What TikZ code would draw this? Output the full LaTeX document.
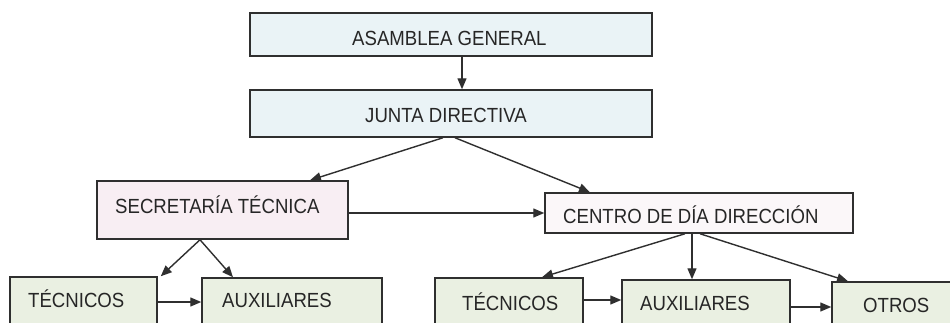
\documentclass[tikz,border=0pt]{standalone}
\usepackage{fontspec}
\setmainfont{Liberation Sans}
\usetikzlibrary{arrows.meta,calc}
\definecolor{edge}{HTML}{2F2F2F}
\definecolor{txtc}{HTML}{262626}
\definecolor{blueF}{HTML}{EAF3F6}
\definecolor{pinkF}{HTML}{F8EEF3}
\definecolor{pinkL}{HTML}{FBF7F9}
\definecolor{greenF}{HTML}{EAF0E2}
\tikzset{
  box/.style={draw=edge, line width=1.5pt, rectangle, inner sep=0pt},
  lbl/.style={anchor=base west, inner sep=0pt, text=txtc, font=\fontsize{18.6}{20}\selectfont},
  arr/.style={draw=edge, line width=1.4pt, -{Triangle[length=11pt,width=9pt]}}
}
\newcommand{\tx}[1]{\scalebox{1}[1.1]{#1}}
\begin{document}
\begin{tikzpicture}[x=1pt,y=-1pt]
\useasboundingbox (0,0) rectangle (950,322);
\clip (0,0) rectangle (950,322);
\fill[white] (0,0) rectangle (950,322);
% boxes
\node[box, fill=blueF, minimum width=402pt, minimum height=43pt] (ag) at (451,34.5) {};
\node[box, fill=blueF, minimum width=402pt, minimum height=47pt] (jd) at (451,113.5) {};
\node[box, fill=pinkF, minimum width=251pt, minimum height=58pt] (st) at (222.5,210) {};
\node[box, fill=pinkL, minimum width=308pt, minimum height=40pt] (cd) at (699,213) {};
\node[box, fill=greenF, minimum width=147pt, minimum height=63pt] (t1) at (83.5,308.5) {};
\node[box, fill=greenF, minimum width=180pt, minimum height=62pt] (a1) at (292,309) {};
\node[box, fill=greenF, minimum width=148pt, minimum height=62pt] (t2) at (509,309) {};
\node[box, fill=greenF, minimum width=168pt, minimum height=60pt] (a2) at (706,310) {};
\node[box, fill=greenF, minimum width=128pt, minimum height=58pt] (ot) at (896,311) {};
% labels
\node[lbl] (lag) at (352,45) {\tx{ASAMBLEA GENERAL}};
\node[lbl] (ljd) at (365,122) {\tx{JUNTA DIRECTIVA}};
\node[lbl] (lst) at (115,213) {\tx{SECRETARÍA TÉCNICA}};
\node[lbl] (lcd) at (563,223) {\tx{CENTRO DE DÍA DIRECCIÓN}};
\node[lbl] (lt1) at (28,307) {\tx{TÉCNICOS}};
\node[lbl] (la1) at (222,307) {\tx{AUXILIARES}};
\node[lbl] (lt2) at (462,310) {\tx{TÉCNICOS}};
\node[lbl] (la2) at (640,310) {\tx{AUXILIARES}};
\node[lbl] (lot) at (863,312) {\tx{OTROS}};
% connectors
\draw[arr] ([xshift=11pt]ag.south) -- ([xshift=11pt]jd.north);
\draw[arr] ([xshift=-8pt]jd.south) -- ([xshift=87.5pt]st.north);
\draw[arr] ([xshift=4pt]jd.south) -- ([xshift=-109pt]cd.north);
\draw[arr] (st.east |- cd.west) -- (cd.west);
\draw[arr] ([xshift=-22.5pt]st.south) -- ([xshift=3pt]t1.north east);
\draw[arr] ([xshift=-22.5pt]st.south) -- ([xshift=-59pt]a1.north);
\draw[arr] ([yshift=6.5pt]t1.east) -- ([yshift=6.5pt]t1.east -| a1.west);
\draw[arr] ([xshift=-14pt]cd.south) -- ([xshift=33pt]t2.north);
\draw[arr] ([xshift=-7pt]cd.south) -- ([xshift=-7pt]cd.south |- a2.north);
\draw[arr] ([xshift=1pt]cd.south) -- ([xshift=-48pt]ot.north);
\draw[arr] ([yshift=9pt]t2.east) -- ([yshift=9pt]t2.east -| a2.west);
\draw[arr] ([yshift=3pt]a2.east) -- ([yshift=3pt]a2.east -| ot.west);
\end{tikzpicture}
\end{document}
